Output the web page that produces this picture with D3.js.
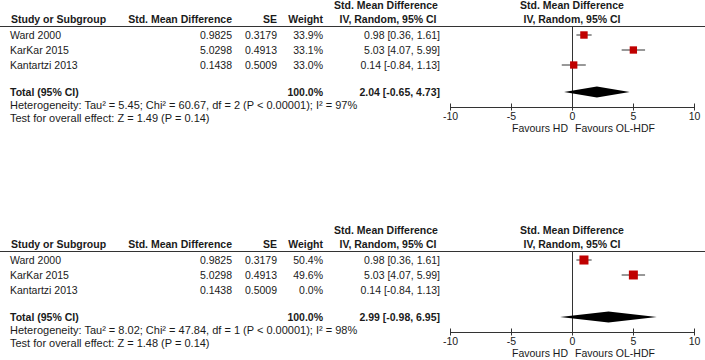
<!DOCTYPE html>
<html>
<head>
<meta charset="utf-8">
<script src="https://cdn.jsdelivr.net/npm/d3@7"></script>
<style>
  body { margin: 0; background: #fff; }
  svg text { font-family: "Liberation Sans", Arial, sans-serif; font-size: 10.5px; fill: #1a1a1a; }
  .b { font-weight: bold; }
  .note { font-size: 11px; }
</style>
</head>
<body>
<svg id="svg" width="705" height="360"></svg>
<script>
// study level data (same three studies in both analyses)
const studies = ['Ward 2000', 'KarKar 2015', 'Kantartzi 2013']
const smd = ['0.9825', '5.0298', '0.1438']
const se = ['0.3179', '0.4913', '0.5009']
const est = [0.98, 5.03, 0.14]
const ciLow = [0.36, 4.07, -0.84]
const ciHigh = [1.61, 5.99, 1.13]

// weights per analysis
const weightsTop = [33.9, 33.1, 33.0]
const weightsBottom = [50.4, 49.6, 0.0]

// pooled results per analysis
const totalEst = [2.04, 2.99]
const totalLow = [-0.65, -0.98]
const totalHigh = [4.73, 6.95]
const tau2 = ['5.45', '8.02']
const chi2 = ['60.67', '47.84']
const df = [2, 1]
const i2 = [97, 98]
const zVal = ['1.49', '1.48']
const pVal = ['0.14', '0.14']

const axisTicks = [-10, -5, 0, 5, 10]

const svg = d3.select('#svg')

const xScale = d3.scaleLinear()
  .domain([-10, 10])
  .range([450, 694])

const rowY = d3.scalePoint()
  .domain(studies)
  .range([35, 65])

const boxSize = d3.scaleSqrt()
  .domain([0, 50])
  .range([0, 9])

const fmt = d => d.toFixed(2)

function txt(g, x, y, s, anchor, cls) {
  return g.append('text')
    .attr('x', x)
    .attr('y', y)
    .attr('dy', '0.35em')
    .attr('text-anchor', anchor || 'start')
    .attr('class', cls || null)
    .text(s)
}

function drawPanel(k, weights, offsetY) {
  const g = svg.append('g').attr('transform', `translate(0,${offsetY})`)

  // headers
  txt(g, 386, 5, 'Std. Mean Difference', 'middle', 'b')
  txt(g, 388, 19, 'IV, Random, 95% CI', 'middle', 'b')
  txt(g, 572, 5, 'Std. Mean Difference', 'middle', 'b')
  txt(g, 572, 19, 'IV, Random, 95% CI', 'middle', 'b')
  txt(g, 11, 19, 'Study or Subgroup', 'start', 'b')
  txt(g, 232, 19, 'Std. Mean Difference', 'end', 'b')
  txt(g, 277, 19, 'SE', 'end', 'b')
  txt(g, 323, 19, 'Weight', 'end', 'b')

  g.append('line')
    .attr('x1', 0).attr('x2', 705)
    .attr('y1', 26.5).attr('y2', 26.5)
    .attr('stroke', '#333').attr('stroke-width', 1)

  // null line
  g.append('line')
    .attr('x1', xScale(0) + 0.5).attr('x2', xScale(0) + 0.5)
    .attr('y1', 26.5).attr('y2', 107)
    .attr('stroke', '#333').attr('stroke-width', 1)

  studies.forEach((s, i) => {
    const y = rowY(s)
    txt(g, 10, y, s)
    txt(g, 232, y, smd[i], 'end')
    txt(g, 277, y, se[i], 'end')
    txt(g, 323, y, weights[i].toFixed(1) + '%', 'end')
    txt(g, 440, y, `${fmt(est[i])} [${fmt(ciLow[i])}, ${fmt(ciHigh[i])}]`, 'end')

    if (weights[i] > 0) {
      g.append('line')
        .attr('x1', xScale(ciLow[i])).attr('x2', xScale(ciHigh[i]))
        .attr('y1', y).attr('y2', y)
        .attr('stroke', '#333').attr('stroke-width', 1)
      const b = boxSize(weights[i])
      g.append('rect')
        .attr('x', xScale(est[i]) - b / 2)
        .attr('y', y - b / 2)
        .attr('width', b).attr('height', b)
        .attr('fill', '#c00000')
    }
  })

  // total row
  const ty = 92
  txt(g, 10, ty, 'Total (95% CI)', 'start', 'b')
  txt(g, 323, ty, '100.0%', 'end', 'b')
  txt(g, 440, ty, `${fmt(totalEst[k])} [${fmt(totalLow[k])}, ${fmt(totalHigh[k])}]`, 'end', 'b')

  const dh = 5.5
  const diamond = [
    [xScale(totalLow[k]), ty],
    [xScale(totalEst[k]), ty - dh],
    [xScale(totalHigh[k]), ty],
    [xScale(totalEst[k]), ty + dh]
  ]
  g.append('path')
    .attr('d', d3.line()(diamond) + 'Z')
    .attr('fill', '#000')

  txt(g, 10, 105, `Heterogeneity: Tau\u00b2 = ${tau2[k]}; Chi\u00b2 = ${chi2[k]}, df = ${df[k]} (P < 0.00001); I\u00b2 = ${i2[k]}%`, 'start', 'note')
  txt(g, 10, 118, `Test for overall effect: Z = ${zVal[k]} (P = ${pVal[k]})`, 'start', 'note')

  // axis
  const ax = g.append('g')
    .attr('transform', 'translate(0,107.5)')
    .call(d3.axisBottom(xScale).tickValues(axisTicks).tickSize(4).tickFormat(d => String(d)))
  ax.select('.domain').attr('stroke', '#333').attr('d', `M${xScale(-10)},0H${xScale(10)}`)
  ax.selectAll('.tick line').attr('y1', -4).attr('y2', 3).attr('stroke', '#333')
  ax.selectAll('.tick text')
    .attr('y', 5)
    .style('font-family', '"Liberation Sans", Arial, sans-serif')
    .style('font-size', '10.5px')
    .attr('fill', '#1a1a1a')

  txt(g, 568, 128, 'Favours HD', 'end')
  txt(g, 575, 128, 'Favours OL-HDF', 'start')
}

drawPanel(0, weightsTop, 0)
drawPanel(1, weightsBottom, 225)
</script>
</body>
</html>
